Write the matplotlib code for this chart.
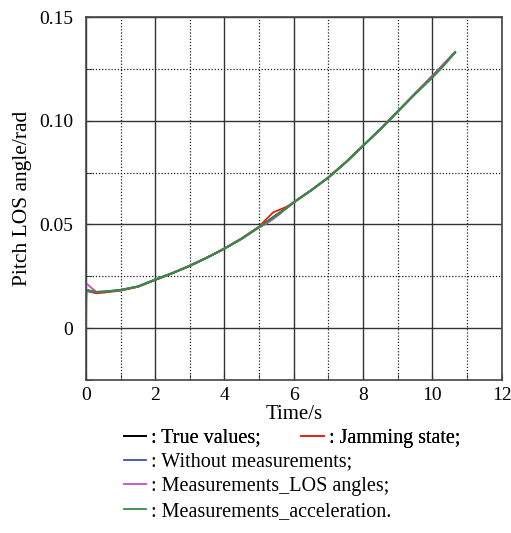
import matplotlib
matplotlib.use("Agg")
import matplotlib.pyplot as plt
from matplotlib.lines import Line2D
from matplotlib.ticker import MultipleLocator

plt.rcParams['font.family'] = ['Liberation Serif', 'DejaVu Serif']

# time axis (s)
t = [0, 0.01, 0.3, 0.6, 1, 1.5, 2, 2.5, 3, 3.5, 4, 4.5, 5, 5.2, 5.4, 5.6,
     5.8, 6, 6.5, 7, 7.5, 8, 8.5, 9, 9.5, 10, 10.3, 10.65]

true_vals = [0, 0.0182, 0.0172, 0.0176, 0.0183, 0.0200, 0.0233, 0.0265, 0.0300,
             0.0340, 0.0383, 0.0432, 0.0488, 0.0512, 0.0535, 0.0558, 0.0582, 0.0607,
             0.0665, 0.0727, 0.0800, 0.0880, 0.0960, 0.1045, 0.1130, 0.1212, 0.1265,
             0.1330]
jamming = [0, 0.0180, 0.0168, 0.0173, 0.0181, 0.0199, 0.0232, 0.0265, 0.0301,
           0.0341, 0.0385, 0.0434, 0.0490, 0.0525, 0.0558, 0.0572, 0.0586, 0.0608,
           0.0665, 0.0727, 0.0800, 0.0880, 0.0961, 0.1046, 0.1132, 0.1218, 0.1268,
           0.1330]
without_meas = [0, 0.0185, 0.0173, 0.0177, 0.0184, 0.0201, 0.0234, 0.0266, 0.0301,
                0.0340, 0.0383, 0.0431, 0.0486, 0.0505, 0.0528, 0.0553, 0.0580, 0.0606,
                0.0664, 0.0726, 0.0799, 0.0879, 0.0959, 0.1044, 0.1129, 0.1210, 0.1263,
                0.1330]
meas_los = [0, 0.0216, 0.0175, 0.0178, 0.0184, 0.0201, 0.0234, 0.0266, 0.0302,
            0.0341, 0.0384, 0.0432, 0.0486, 0.0503, 0.0526, 0.0552, 0.0580, 0.0606,
            0.0665, 0.0727, 0.0801, 0.0881, 0.0962, 0.1047, 0.1133, 0.1216, 0.1272,
            0.1330]
meas_acc = [0, 0.0184, 0.0174, 0.0177, 0.0184, 0.0201, 0.0234, 0.0266, 0.0301,
            0.0341, 0.0384, 0.0432, 0.0488, 0.0510, 0.0533, 0.0557, 0.0581, 0.0607,
            0.0665, 0.0727, 0.0800, 0.0880, 0.0960, 0.1045, 0.1130, 0.1211, 0.1262,
            0.1330]

labels = [' : True values;', ' : Jamming state;', ' : Without measurements;',
          ' : Measurements_LOS angles;', ' : Measurements_acceleration.']
colors = ['#000000', '#e8201c', '#3a55a8', '#c050c0', '#3a8a44']

fig = plt.figure(figsize=(5.11, 5.33), dpi=100)
ax = fig.add_axes([0.168, 0.287, 0.814, 0.681])

series = [true_vals, jamming, without_meas, meas_los, meas_acc]
for y, c in zip(series, colors):
    ax.plot(t, y, color=c, lw=1.3 if c != colors[-1] else 1.6)

ax.set_xlim(0, 12)
ax.set_ylim(-0.025, 0.15)
ax.xaxis.set_major_locator(MultipleLocator(2))
ax.xaxis.set_minor_locator(MultipleLocator(1))
ax.yaxis.set_major_locator(MultipleLocator(0.05))
ax.yaxis.set_minor_locator(MultipleLocator(0.025))
ax.set_yticks([0, 0.05, 0.10, 0.15])
ax.set_yticklabels(['0', '0.05', '0.10', '0.15'])
ax.grid(which='major', color='#333333', lw=1.0, ls='-')
ax.grid(which='minor', color='#222222', lw=0.9, ls=(0, (1, 1.5)))
ax.set_axisbelow(True)
ax.tick_params(which='both', direction='in', labelsize=14, length=4,
               top=False, right=False, colors='#333333', labelcolor='black')
ax.tick_params(axis='x', pad=5)
ax.tick_params(axis='y', pad=9)
for s in ax.spines.values():
    s.set_color('#444444')
    s.set_linewidth(1.2)

ax.set_xlabel('Time/s', fontsize=15, labelpad=1)
ax.set_ylabel('Pitch LOS angle/rad', fontsize=15.5, labelpad=5)

handles = [Line2D([], [], color=c, lw=1.3) for c in colors]
leg1 = fig.legend(handles[:2], labels[:2], ncol=2, loc='upper left',
                  bbox_to_anchor=(0.243, 0.196), frameon=False, fontsize=14.5,
                  handlelength=1.1, handletextpad=0.0, columnspacing=2.0,
                  borderaxespad=0, borderpad=0)
fig.add_artist(leg1)
fig.legend(handles[2:], labels[2:], loc='upper left',
           bbox_to_anchor=(0.243, 0.151), frameon=False, fontsize=14.5,
           handlelength=1.1, handletextpad=0.0, labelspacing=0.27,
           borderaxespad=0, borderpad=0)

fig.savefig('out.png', dpi=100)
